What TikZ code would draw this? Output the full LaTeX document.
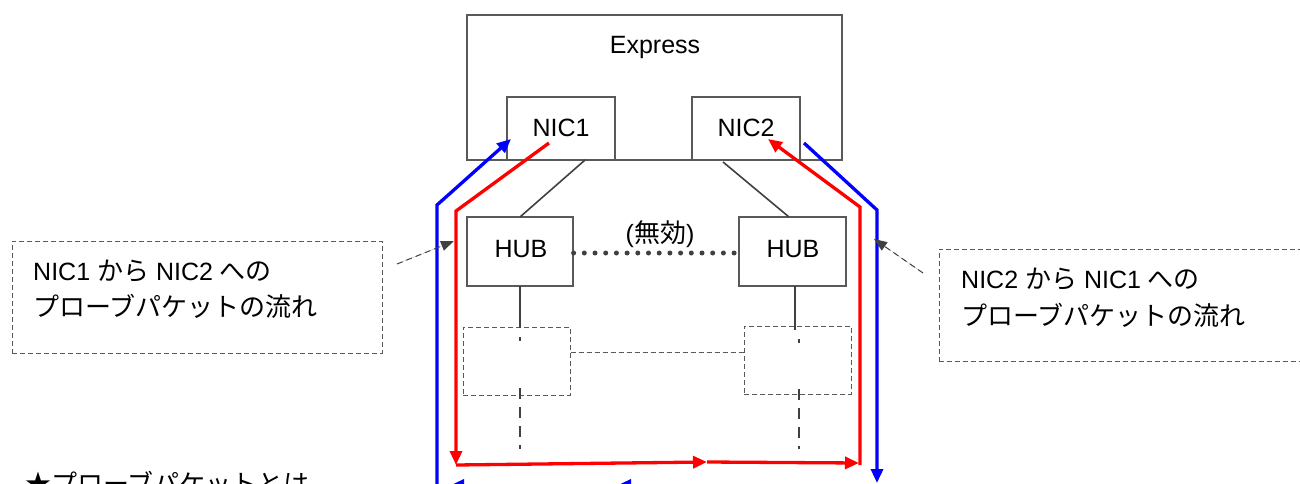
\documentclass[tikz,border=0pt]{standalone}
\usepackage{fontspec}
\setmainfont{Liberation Sans}
\newfontfamily\jp[Scale=1.04]{Noto Sans CJK JP}
\usetikzlibrary{arrows.meta}
\definecolor{boxgray}{HTML}{595959}
\definecolor{linegray}{HTML}{404040}
\definecolor{pred}{HTML}{FF0000}
\definecolor{pblue}{HTML}{0000FF}
\tikzset{
  solidbox/.style={draw=boxgray, line width=1.2pt, fill=white, inner sep=0pt},
  dashbox/.style={draw=boxgray, line width=1pt, dash pattern=on 5pt off 3pt, inner sep=0pt},
  lbl/.style={font=\fontsize{25}{30}\selectfont, inner sep=0pt},
  conn/.style={draw=linegray, line width=1.6pt},
  flowred/.style={draw=pred, line width=3.3pt, line join=miter, -{Triangle[length=14pt,width=12pt]}},
  flowblue/.style={draw=pblue, line width=3.3pt, line join=miter, -{Triangle[length=14pt,width=12pt]}},
  note/.style={draw=linegray, line width=1pt, dash pattern=on 6pt off 4pt, -{Triangle[length=13pt,width=10pt]}, fill=linegray},
}
\begin{document}
\begin{tikzpicture}[x=1pt,y=-1pt]
\clip (0,0) rectangle (1300,484);
\useasboundingbox (0,0) rectangle (1300,484);
\fill[white] (0,0) rectangle (1300,484);

% Express and NICs
\draw[solidbox] (467,15) rectangle (842,160);
\node[lbl, anchor=base] (express) at (655,54) {Express};
\node[solidbox, minimum width=108pt, minimum height=63pt] (nic1) at (561,128.5) {};
\node[solidbox, minimum width=108pt, minimum height=63pt] (nic2) at (746,128.5) {};
\node[lbl, anchor=base] (nic1t) at (561,136) {NIC1};
\node[lbl, anchor=base] (nic2t) at (746,136) {NIC2};

% HUBs
\node[solidbox, minimum width=106pt, minimum height=69pt] (hub1) at (520,251.5) {};
\node[solidbox, minimum width=107pt, minimum height=69pt] (hub2) at (792.5,251.5) {};
\node[lbl, anchor=base] (hub1t) at (521,257) {HUB};
\node[lbl, anchor=base] (hub2t) at (793,257) {HUB};

\coordinate (n1b) at (585,160);
\coordinate (h1t) at (520,217);
\coordinate (n2b) at (723,162);
\coordinate (h2t) at (789,217);
\draw[conn] (n1b) -- (h1t);
\draw[conn] (n2b) -- (h2t);

% disabled link
\draw[draw=linegray, line width=5pt, line cap=round, dash pattern=on 0pt off 10.7pt] (hub1.east |- 0,253) -- (hub2.west |- 0,253);
\node[lbl, anchor=center] (mukou) at (660,234) {(\jp 無効\rmfamily)};

% dashed boxes
\node[dashbox, minimum width=107pt, minimum height=68pt] (db1) at (516.5,361) {};
\node[dashbox, minimum width=107pt, minimum height=68pt] (db2) at (797.5,360) {};
\draw[draw=boxgray, line width=1pt, dash pattern=on 5pt off 3pt] (db1.east |- 0,352) -- (db2.west |- 0,352);

% vertical links below hubs
\draw[conn, line width=2pt] (520,286) -- (520,328);
\draw[conn, line width=2pt] (520,337) -- (520,341);
\draw[conn, line width=2pt, dash pattern=on 11pt off 8pt] (520,388) -- (520,449);
\draw[conn, line width=2pt] (795,286) -- (795,330);
\draw[conn, line width=2pt] (799,339) -- (799,343);
\draw[conn, line width=2pt, dash pattern=on 11pt off 8pt] (799,389) -- (799,449);

% red flow NIC1 -> NIC2
\coordinate (r0) at (549,143);
\coordinate (r1) at (456,211);
\coordinate (r2) at (456,465);
\coordinate (r3) at (707,462);
\coordinate (r4) at (859,463);
\coordinate (r5) at (860,465);
\coordinate (r6) at (860,207);
\coordinate (r7) at (768,139);
\draw[flowred] (r0) -- (r1) -- (r2);
\draw[flowred] (r2) -- (r3);
\draw[flowred] (r3) -- (r4);
\draw[flowred] (r5) -- (r6) -- (r7);

% blue flow NIC2 -> NIC1
\coordinate (b0) at (437,492);
\coordinate (b1) at (437,205);
\coordinate (b2) at (511,139);
\coordinate (b3) at (804,143);
\coordinate (b4) at (877,210);
\coordinate (b5) at (877,483);
\coordinate (b6) at (877,485.5);
\coordinate (b7) at (617,485.5);
\coordinate (b8) at (450,485.5);
\draw[flowblue] (b0) -- (b1) -- (b2);
\draw[flowblue] (b3) -- (b4) -- (b5);
\draw[flowblue] (b6) -- (b7);
\draw[flowblue] (b7) -- (b8);

% annotations
\node[dashbox, minimum width=370pt, minimum height=112pt] (ann1) at (197,297) {};
\node[lbl, anchor=base west] (ann1a) at (33,280) {NIC1 {\jp から} NIC2 {\jp への}};
\node[lbl, anchor=base west] (ann1b) at (33,316) {\jp プローブパケットの流れ};
\coordinate (a1s) at (397,264);
\coordinate (a1e) at (454,241);
\draw[note] (a1s) -- (a1e);

\node[dashbox, minimum width=366pt, minimum height=112pt] (ann2) at (1122,305) {};
\node[lbl, anchor=base west] (ann2a) at (961,288) {NIC2 {\jp から} NIC1 {\jp への}};
\node[lbl, anchor=base west] (ann2b) at (961,325) {\jp プローブパケットの流れ};
\coordinate (a2s) at (923,273);
\coordinate (a2e) at (874,239);
\draw[note] (a2s) -- (a2e);

% footnote heading (cut off at the lower edge, as in the reference)
\node[lbl, anchor=base west] (star) at (25,493) {\jp ★プローブパケットとは};
\end{tikzpicture}
\end{document}
